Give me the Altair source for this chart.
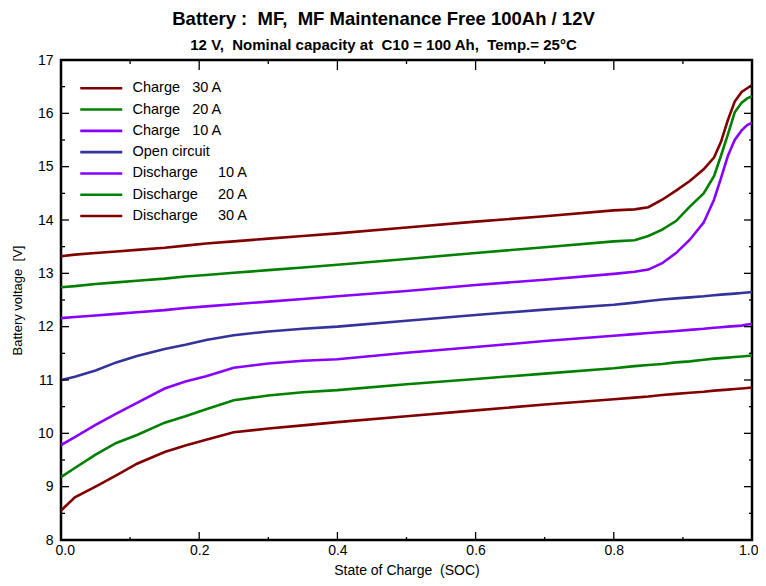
import altair as alt
import pandas as pd

NB = "\u00a0"

# ---- data ----
soc = [0.0, 0.02, 0.05, 0.08, 0.11, 0.15, 0.18, 0.21, 0.25, 0.30, 0.35, 0.40,
       0.50, 0.60, 0.70, 0.80, 0.83, 0.85, 0.87, 0.89, 0.91, 0.93, 0.945,
       0.955, 0.965, 0.975, 0.985, 0.993, 1.0]

charge_30 = [13.32, 13.35, 13.38, 13.41, 13.44, 13.48, 13.52, 13.56, 13.60, 13.65, 13.70, 13.75,
             13.86, 13.97, 14.07, 14.18, 14.20, 14.24, 14.38, 14.55, 14.73, 14.95, 15.17,
             15.46, 15.87, 16.22, 16.40, 16.47, 16.53]
charge_20 = [12.74, 12.76, 12.80, 12.83, 12.86, 12.90, 12.94, 12.97, 13.01, 13.06, 13.11, 13.16,
             13.27, 13.38, 13.49, 13.60, 13.62, 13.70, 13.82, 13.98, 14.25, 14.50, 14.82,
             15.20, 15.60, 16.02, 16.20, 16.28, 16.32]
charge_10 = [12.16, 12.18, 12.21, 12.24, 12.27, 12.31, 12.35, 12.38, 12.42, 12.47, 12.52, 12.57,
             12.67, 12.78, 12.88, 12.99, 13.03, 13.07, 13.19, 13.38, 13.63, 13.95, 14.38,
             14.78, 15.20, 15.50, 15.68, 15.78, 15.82]
open_circuit = [11.00, 11.06, 11.18, 11.33, 11.45, 11.58, 11.66, 11.75, 11.84, 11.91, 11.96, 12.00,
                12.11, 12.22, 12.32, 12.41, 12.45, 12.48, 12.51, 12.53, 12.55, 12.57, 12.59,
                12.60, 12.61, 12.62, 12.63, 12.64, 12.65]
discharge_10 = [9.78, 9.93, 10.16, 10.37, 10.57, 10.84, 10.97, 11.07, 11.23, 11.31, 11.36, 11.39,
                11.51, 11.62, 11.73, 11.83, 11.86, 11.88, 11.90, 11.92, 11.94, 11.96, 11.98,
                11.99, 12.00, 12.01, 12.02, 12.04, 12.05]
discharge_20 = [9.18, 9.35, 9.60, 9.82, 9.97, 10.20, 10.32, 10.45, 10.62, 10.71, 10.77, 10.81,
                10.92, 11.02, 11.12, 11.22, 11.26, 11.28, 11.30, 11.33, 11.35, 11.38, 11.40,
                11.41, 11.42, 11.43, 11.44, 11.45, 11.46]
discharge_30 = [8.55, 8.80, 9.00, 9.21, 9.43, 9.65, 9.77, 9.88, 10.02, 10.09, 10.15, 10.21,
                10.32, 10.43, 10.54, 10.64, 10.67, 10.69, 10.72, 10.74, 10.76, 10.78, 10.80,
                10.81, 10.82, 10.83, 10.84, 10.85, 10.86]

series_names = [
    "Charge" + NB * 3 + "30 A",
    "Charge" + NB * 3 + "20 A",
    "Charge" + NB * 3 + "10 A",
    "Open circuit",
    "Discharge" + NB * 5 + "10 A",
    "Discharge" + NB * 5 + "20 A",
    "Discharge" + NB * 5 + "30 A",
]
series_values = [charge_30, charge_20, charge_10, open_circuit,
                 discharge_10, discharge_20, discharge_30]
series_colors = ["#800000", "#008000", "#8a00ff", "#33339a", "#8a00ff", "#008000", "#800000"]
series_widths = [2.6, 2.6, 2.6, 1.0, 2.6, 2.6, 2.6]

x_major = [0.0, 0.2, 0.4, 0.6, 0.8, 1.0]
x_minor = [0.1, 0.3, 0.5, 0.7, 0.9]
y_major = [8, 9, 10, 11, 12, 13, 14, 15, 16, 17]
y_minor = [8.5, 9.5, 10.5, 11.5, 12.5, 13.5, 14.5, 15.5, 16.5]

rows = []
for name, vals in zip(series_names, series_values):
    for s, v in zip(soc, vals):
        rows.append({"soc": s, "volt": v, "series": name})
df = pd.DataFrame(rows)

W, H = 691, 480
xscale = alt.Scale(domain=[0, 1], nice=False, zero=False)
yscale = alt.Scale(domain=[8, 17], nice=False, zero=False)

x_axis = alt.Axis(values=x_major, format=".1f", ticks=False, domain=False, grid=False,
                  labelFontSize=14, labelPadding=3, labelColor="black",
                  labelFlush=True, labelFlushOffset=6,
                  title="State of Charge" + NB * 2 + "(SOC)", titleFontSize=14,
                  titleFontWeight="normal", titleColor="black", titlePadding=6)
y_axis = alt.Axis(values=y_major, format="d", ticks=False, domain=False, grid=False,
                  labelFontSize=14, labelPadding=8, labelColor="black",
                  title="Battery voltage" + NB * 2 + "[V]", titleFontSize=13,
                  titleFontWeight="normal", titleColor="black", titlePadding=13)

lines = alt.Chart(df).mark_line(clip=True).encode(
    x=alt.X("soc:Q", scale=xscale, axis=x_axis),
    y=alt.Y("volt:Q", scale=yscale, axis=y_axis),
    color=alt.Color("series:N", sort=series_names,
                    scale=alt.Scale(domain=series_names, range=series_colors),
                    legend=alt.Legend(title=None, orient="none", legendX=33, legendY=21,
                                      symbolType="M-4.2,0L4.2,0", symbolSize=100,
                                      labelFontSize=14.5, labelColor="black",
                                      labelOffset=24, rowPadding=6.3, padding=0)),
    strokeWidth=alt.StrokeWidth("series:N", sort=series_names,
                                scale=alt.Scale(domain=series_names, range=series_widths),
                                legend=None),
    detail="series:N",
)


def tick_layer(values, orient, length):
    d = pd.DataFrame({"v": values})
    base = alt.Chart(d).mark_rule(color="black", strokeWidth=1.3)
    if orient == "bottom":
        return base.encode(x=alt.X("v:Q", scale=xscale, axis=x_axis),
                           y=alt.value(H), y2=alt.value(H - length))
    if orient == "top":
        return base.encode(x=alt.X("v:Q", scale=xscale, axis=x_axis),
                           y=alt.value(0), y2=alt.value(length))
    if orient == "left":
        return base.encode(y=alt.Y("v:Q", scale=yscale, axis=y_axis),
                           x=alt.value(0), x2=alt.value(length))
    return base.encode(y=alt.Y("v:Q", scale=yscale, axis=y_axis),
                       x=alt.value(W), x2=alt.value(W - length))


ticks = [
    tick_layer(x_major, "bottom", 8), tick_layer(x_minor, "bottom", 3),
    tick_layer(x_major, "top", 10), tick_layer(x_minor, "top", 4),
    tick_layer(y_major, "left", 8), tick_layer(y_minor, "left", 4),
    tick_layer(y_major, "right", 8), tick_layer(y_minor, "right", 3),
]

chart = alt.layer(lines, *ticks).properties(
    width=W, height=H,
    autosize=alt.AutoSizeParams(type="none"),
    padding={"left": 53, "top": 52, "right": 6, "bottom": 38},
    title=alt.TitleParams(
        text="Battery :" + NB * 2 + "MF," + NB * 2 + "MF Maintenance Free 100Ah / 12V",
        subtitle="12 V," + NB * 2 + "Nominal capacity at" + NB * 2 + "C10 = 100 Ah," + NB * 2 + "Temp.= 25\u00b0C",
        fontSize=18.5, fontWeight="bold", color="black",
        subtitleFontSize=15, subtitleFontWeight="bold", subtitleColor="black",
        subtitlePadding=10, anchor="middle", dx=-23, offset=0,
    ),
).configure(
    font="Liberation Sans",
).configure_view(
    stroke="black", strokeWidth=2.5,
)

chart.save("out.html", embed_options={"renderer": "svg", "actions": False})
